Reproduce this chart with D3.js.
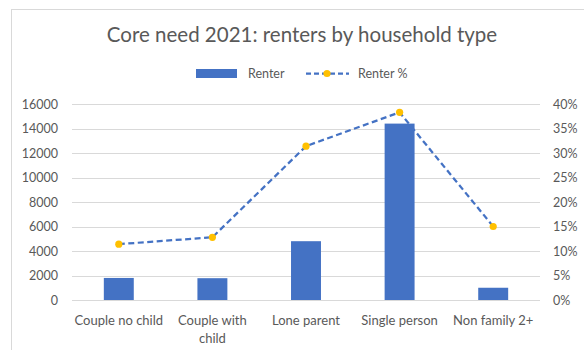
<!DOCTYPE html>
<html>
<head>
<meta charset="utf-8">
<script src="https://cdn.jsdelivr.net/npm/d3@7"></script>
<style>
  body { margin: 0; background: #fff; }
  text { font-family: Lato, "Liberation Sans", sans-serif; fill: #595959; }
</style>
</head>
<body>
<script>
const categories = ["Couple no child", "Couple with child", "Lone parent", "Single person", "Non family 2+"];
const renter = [1800, 1780, 4800, 14400, 1000];
const renterPct = [0.114, 0.128, 0.314, 0.383, 0.15];
const leftTicks = [0, 2000, 4000, 6000, 8000, 10000, 12000, 14000, 16000];
const rightTicks = [0, 0.05, 0.1, 0.15, 0.2, 0.25, 0.3, 0.35, 0.4];

const W = 584, H = 350;
const plot = { left: 72, right: 540, top: 104, bottom: 300 };
const blue = "#4472C4";
const gold = "#FFC000";

const svg = d3.select("body")
    .append("svg")
    .attr("width", W)
    .attr("height", H);

// chart frame
svg.append("rect")
    .attr("x", 11.5)
    .attr("y", 9.5)
    .attr("width", 600)
    .attr("height", 400)
    .attr("fill", "white")
    .attr("stroke", "#D9D9D9");

const x = d3.scaleBand()
    .domain(categories)
    .range([plot.left, plot.right])
    .paddingInner(0.68)
    .paddingOuter(0.34);

const xc = d3.scalePoint()
    .domain(categories)
    .range([plot.left, plot.right])
    .padding(0.5);

const yL = d3.scaleLinear().domain([0, 16000]).range([plot.bottom, plot.top]);
const yR = d3.scaleLinear().domain([0, 0.4]).range([plot.bottom, plot.top]);

// gridlines
svg.append("g")
    .selectAll("line")
    .data(leftTicks)
    .join("line")
    .attr("x1", plot.left)
    .attr("x2", plot.right)
    .attr("y1", d => Math.round(yL(d)) + 0.5)
    .attr("y2", d => Math.round(yL(d)) + 0.5)
    .attr("stroke", "#D9D9D9")
    .attr("stroke-width", 1);

// left axis
const axL = svg.append("g")
    .attr("transform", `translate(${plot.left - 10},0)`)
    .call(d3.axisLeft(yL).tickValues(leftTicks).tickSize(0).tickFormat(d3.format("d")));
axL.select(".domain").remove();
axL.selectAll("text")
    .attr("x", -4)
    .style("font-size", "12.5px")
    .style("fill", "#595959");

// right axis
const axR = svg.append("g")
    .attr("transform", `translate(${plot.right + 10},0)`)
    .call(d3.axisRight(yR).tickValues(rightTicks).tickSize(0).tickFormat(d3.format(".0%")));
axR.select(".domain").remove();
axR.selectAll("text")
    .attr("x", 3)
    .style("font-size", "12.5px")
    .style("fill", "#595959");

// bars
svg.append("g")
    .selectAll("rect")
    .data(renter)
    .join("rect")
    .attr("x", (d, i) => x(categories[i]))
    .attr("width", x.bandwidth())
    .attr("y", d => yL(d))
    .attr("height", d => yL(0) - yL(d))
    .attr("fill", blue);

// line
const line = d3.line()
    .x((d, i) => xc(categories[i]))
    .y(d => yR(d));

svg.append("path")
    .datum(renterPct)
    .attr("d", line)
    .attr("fill", "none")
    .attr("stroke", blue)
    .attr("stroke-width", 2.25)
    .attr("stroke-dasharray", "6,3.5");

svg.append("g")
    .selectAll("circle")
    .data(renterPct)
    .join("circle")
    .attr("cx", (d, i) => xc(categories[i]))
    .attr("cy", d => yR(d))
    .attr("r", 3.6)
    .attr("fill", gold);

// x labels
const xl = svg.append("g")
    .selectAll("text")
    .data(categories)
    .join("text")
    .attr("x", d => xc(d))
    .attr("y", 325)
    .attr("text-anchor", "middle")
    .style("font-size", "13px");
xl.each(function (d) {
    const t = d3.select(this);
    if (d === "Couple with child") {
        t.append("tspan").attr("x", xc(d)).text("Couple with");
        t.append("tspan").attr("x", xc(d)).attr("dy", 18).text("child");
    } else {
        t.text(d);
    }
});

// title
svg.append("text")
    .attr("x", 302)
    .attr("y", 42)
    .attr("text-anchor", "middle")
    .style("font-size", "20.5px")
    .text("Core need 2021: renters by household type");

// legend
const lg = svg.append("g");
lg.append("rect")
    .attr("x", 196)
    .attr("y", 69)
    .attr("width", 41)
    .attr("height", 9)
    .attr("fill", blue);
lg.append("text")
    .attr("x", 248)
    .attr("y", 78)
    .style("font-size", "12.5px")
    .text("Renter");
lg.append("line")
    .attr("x1", 306)
    .attr("x2", 349)
    .attr("y1", 73.5)
    .attr("y2", 73.5)
    .attr("stroke", blue)
    .attr("stroke-width", 2.25)
    .attr("stroke-dasharray", "5,3");
lg.append("circle")
    .attr("cx", 327)
    .attr("cy", 73.5)
    .attr("r", 3.6)
    .attr("fill", gold);
lg.append("text")
    .attr("x", 358)
    .attr("y", 78)
    .style("font-size", "12.5px")
    .text("Renter %");
</script>
</body>
</html>
